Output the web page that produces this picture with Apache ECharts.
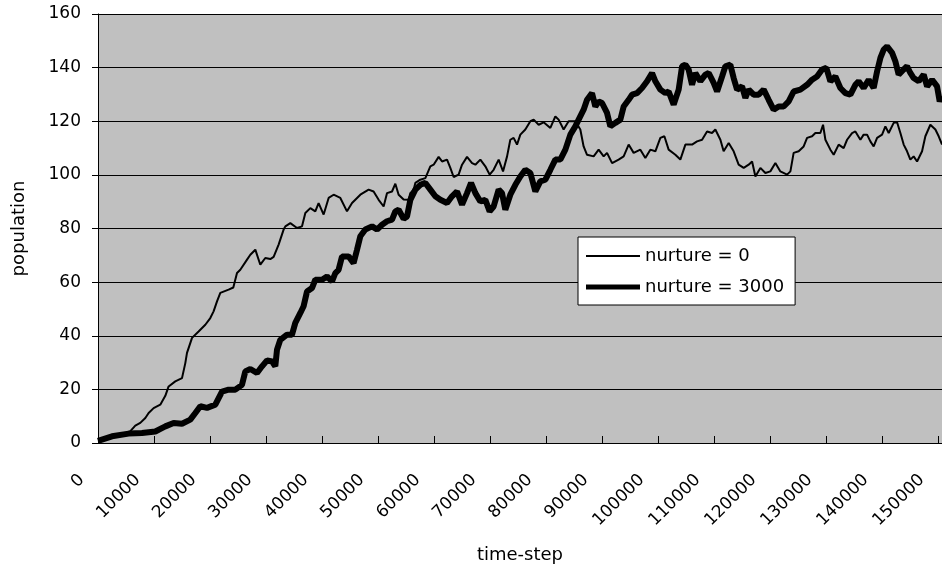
<!DOCTYPE html>
<html>
<head>
<meta charset="utf-8">
<script src="https://cdn.jsdelivr.net/npm/echarts@6/dist/echarts.min.js"></script>
<style>html,body{margin:0;padding:0;background:#fff;}#c{width:942px;height:565px;}</style>
</head>
<body>
<div id="c"></div>
<script>
// ---- data ----
const seriesNames = ['nurture = 0', 'nurture = 3000'];
const yTicks = [0, 20, 40, 60, 80, 100, 120, 140, 160];
const xTicks = [0, 10000, 20000, 30000, 40000, 50000, 60000, 70000, 80000, 90000, 100000, 110000, 120000, 130000, 140000, 150000];

const thinT = [0, 3090, 5460, 6660, 7550, 8450, 9040, 9930, 11120, 12020, 12610, 13800, 15000, 15590, 15890, 16790, 17960, 19160, 20050, 20640, 21250, 21840, 23320, 24160, 24820, 25410, 26610, 27200, 28090, 28980, 29870, 30770, 31360, 32250, 33140, 33450, 34340, 35540, 36430, 37020, 37910, 38800, 39390, 40290, 41180, 42070, 43270, 44460, 45360, 46840, 48320, 49210, 50110, 51000, 51610, 52500, 53090, 53680, 54570, 55460, 55770, 56360, 56660, 57550, 58450, 59340, 59930, 60820, 61430, 62320, 62910, 63500, 64390, 65000, 65890, 66790, 67380, 68270, 69160, 69930, 70640, 71540, 72320, 73040, 73620, 74210, 74820, 75410, 76300, 77200, 77790, 78680, 79570, 80770, 81660, 82250, 83140, 84030, 85230, 86120, 86710, 87320, 88500, 89390, 90290, 90890, 91790, 92960, 93860, 94750, 95640, 96840, 97730, 98620, 99520, 100410, 101130, 101890, 103090, 103980, 104880, 106070, 106960, 107860, 108750, 109640, 110230, 111130, 111710, 112610, 113500, 114390, 115290, 116180, 116790, 117380, 118270, 119160, 120050, 120950, 121840, 123040, 123630, 124210, 125110, 126000, 126610, 127500, 128090, 128980, 129460, 129880, 130770, 131360, 132250, 133140, 133750, 134640, 135230, 136130, 136710, 137320, 137910, 138500, 139110, 140000, 140590, 141180, 142070, 142680, 143270, 143860, 144460, 145050, 145640, 146250, 147140, 147730, 148620, 149520, 150110, 150710];
const thinV = [0.5, 2.5, 3.7, 6.5, 7.5, 9.3, 11.2, 13, 14.3, 17.6, 21.1, 23, 24.2, 29.8, 33.6, 39.2, 41.6, 44.1, 46.6, 49.1, 52.8, 56, 57.2, 58, 63.4, 64.6, 68.4, 70.2, 72.1, 66.5, 69, 68.6, 69.4, 74, 79.6, 80.8, 82, 80.2, 80.8, 85.8, 87.6, 86.4, 89.5, 85.2, 91.4, 92.6, 91.4, 86.4, 89.5, 92.6, 94.5, 93.8, 90.7, 88.2, 93.2, 93.8, 96.7, 92.6, 90.8, 90.7, 93.2, 94.5, 97, 98.2, 98.8, 103.2, 103.8, 106.7, 105, 105.7, 102.6, 99.2, 100.1, 103.8, 106.7, 104.4, 103.8, 105.7, 103.2, 100.1, 101.9, 105.7, 101.3, 106.9, 113.1, 113.8, 111.3, 115, 116.9, 120, 120.6, 118.7, 119.6, 117.5, 121.8, 120.6, 116.9, 120, 120, 116.9, 110.6, 107.5, 106.9, 109.4, 106.9, 108.2, 104.4, 105.7, 106.9, 111.3, 108.2, 109.4, 106.3, 109.4, 108.8, 113.8, 114.4, 109.4, 107.5, 105.7, 111.3, 111.3, 112.5, 113.1, 116.2, 115.6, 116.9, 113.1, 108.8, 111.9, 108.8, 103.8, 102.6, 103.8, 105, 99.4, 102.6, 100.7, 101.3, 104.4, 101.3, 100.1, 101.3, 108.2, 108.8, 110.6, 113.8, 114.4, 115.6, 115.6, 118.7, 113.1, 109.4, 107.5, 111.3, 110, 113.1, 115.6, 116.2, 113.1, 115, 115, 112.5, 110.6, 113.8, 115, 118.1, 115.6, 119.4, 119.6, 115.6, 111.3, 108.8, 105.7, 106.9, 105, 108.8, 114.4, 118.7, 116.9, 114.4, 111.3];

const thickT = [0, 2500, 5460, 7860, 10230, 12020, 13500, 15000, 16480, 17380, 18270, 19460, 20950, 22140, 23320, 24520, 25710, 26300, 27200, 28390, 29290, 30180, 31070, 31660, 31960, 32550, 33750, 34640, 35230, 36130, 36710, 37320, 38210, 38800, 40000, 40890, 41790, 42380, 42960, 43570, 44750, 45640, 46250, 46840, 47730, 48930, 49820, 50710, 51610, 52500, 53090, 53680, 54570, 55180, 55770, 56660, 57550, 58450, 59340, 60230, 61130, 62320, 63210, 64110, 65000, 65890, 66610, 67380, 68270, 69160, 69930, 70640, 71540, 72140, 72730, 73620, 74520, 75410, 76300, 77200, 78090, 78980, 79880, 80770, 81660, 82550, 83450, 84340, 85230, 85820, 86710, 87320, 88210, 88800, 89390, 90000, 90890, 91480, 92380, 93270, 93860, 94750, 95360, 96250, 97140, 98040, 98930, 99520, 100410, 101300, 101890, 102790, 103680, 104290, 104880, 105460, 106070, 106660, 107550, 108450, 109040, 109930, 110540, 111430, 112020, 112910, 113500, 114110, 115000, 115590, 116180, 117070, 117960, 118860, 119750, 120640, 121540, 122430, 123320, 124210, 125410, 126610, 127500, 128390, 129290, 130050, 130770, 131660, 132550, 133450, 134340, 135230, 135820, 136710, 137610, 138500, 139110, 139700, 140290, 140890, 141790, 142380, 142960, 143860, 144460, 145050, 145640, 146540, 147430, 148040, 148930, 149820, 150290, 150710];
const thickV = [0.8, 2.5, 3.5, 3.7, 4.3, 6.2, 7.5, 7.2, 8.7, 11.2, 13.7, 13.1, 14.3, 19.2, 19.9, 19.9, 21.7, 26.7, 27.6, 26.1, 28.6, 30.8, 30.4, 28.6, 34.8, 38.5, 40.4, 40.4, 44.8, 48.5, 51, 56.5, 57.8, 60.9, 60.9, 62.1, 60.3, 63.4, 64.6, 69.6, 69.6, 67.1, 72.1, 77.1, 79.6, 80.8, 79.6, 81.4, 82.7, 83.3, 86.4, 87, 83.6, 84.5, 90.7, 94.5, 96.3, 97, 94.5, 92, 90.7, 89.5, 92, 93.8, 88.9, 93.2, 97, 93.2, 90.1, 90.7, 86.4, 88.2, 94.5, 93.2, 87, 92.6, 96.3, 99.4, 101.9, 100.7, 93.8, 97.6, 98.2, 101.9, 105.7, 105.7, 109.4, 115, 118.1, 120.6, 124.3, 128, 130.5, 125.5, 127.4, 126.8, 123.1, 118.1, 119.4, 120.6, 125.5, 128, 129.9, 130.5, 132.4, 134.9, 138, 134.9, 131.8, 130.5, 131.1, 126.2, 131.8, 140.5, 141.1, 139.3, 133.6, 138, 134.9, 137.4, 138, 134.3, 131.1, 136.7, 140.5, 141.1, 136.1, 131.8, 133, 128.7, 131.8, 129.9, 129.9, 131.8, 128, 124.3, 125.5, 125.5, 127.4, 131.1, 131.8, 133.6, 135.5, 136.7, 139.3, 139.9, 134.9, 136.7, 132.4, 130.5, 129.9, 133.6, 134.9, 132.4, 135.5, 132.4, 138.6, 143.6, 146.7, 147.9, 145.5, 142.3, 137.4, 139.3, 140.5, 138, 136.1, 134.9, 137.4, 133, 135.5, 133, 127.4, 129.3];

const xMax = 150700;

function zip(t, v) { return t.map((x, i) => [x, v[i]]); }

const FONT = 'DejaVu Sans';
const chart = echarts.init(document.getElementById('c'), null, { renderer: 'canvas' });
chart.setOption({
  animation: false,
  backgroundColor: '#ffffff',
  textStyle: { fontFamily: FONT, color: '#000' },
  grid: {
    left: 98, right: 0, top: 14, bottom: 122,
    containLabel: false,
    outerBoundsMode: 'none',
    show: true, backgroundColor: '#c0c0c0', borderWidth: 0
  },
  legend: {
    orient: 'vertical',
    left: 578, top: 237,
    backgroundColor: '#ffffff',
    borderColor: '#000', borderWidth: 1,
    padding: [10, 11, 9, 8],
    itemWidth: 54, itemHeight: 18, itemGap: 13,
    symbolKeepAspect: true,
    textStyle: { fontFamily: FONT, fontSize: 18, color: '#000' },
    data: [
      { name: seriesNames[0], icon: 'path://M0,0H54V2H0Z' },
      { name: seriesNames[1], icon: 'path://M0,0H54V5H0Z' }
    ]
  },
  xAxis: {
    type: 'value',
    min: 0, max: xMax, interval: 10000,
    name: 'time-step', nameLocation: 'middle', nameGap: 103,
    nameTextStyle: { fontFamily: FONT, fontSize: 18, color: '#000' },
    axisLine: { show: true, lineStyle: { color: '#000', width: 1 } },
    axisTick: { show: true, inside: true, length: 7, lineStyle: { color: '#000' } },
    splitLine: { show: false },
    axisLabel: {
      rotate: 45, margin: 18, fontFamily: FONT, fontSize: 17, color: '#000',
      padding: [0, 23, 0, 0],
      showMaxLabel: false,
      formatter: v => (xTicks.indexOf(v) >= 0 ? String(v) : '')
    }
  },
  yAxis: {
    type: 'value',
    min: 0, max: 160, interval: 20,
    name: 'population', nameLocation: 'middle', nameGap: 70,
    nameTextStyle: { fontFamily: FONT, fontSize: 18, color: '#000' },
    axisLine: { show: true, lineStyle: { color: '#000', width: 1 } },
    axisTick: { show: true, inside: false, length: 6, lineStyle: { color: '#000' } },
    splitLine: { show: true, lineStyle: { color: '#000', width: 1 } },
    axisLabel: {
      margin: 17, fontFamily: FONT, fontSize: 17, color: '#000',
      formatter: v => (yTicks.indexOf(v) >= 0 ? String(v) : '')
    }
  },
  series: [
    {
      name: seriesNames[0], type: 'line', data: zip(thinT, thinV),
      showSymbol: false, symbol: 'none',
      lineStyle: { color: '#000', width: 2 }, itemStyle: { color: '#000' }
    },
    {
      name: seriesNames[1], type: 'line', data: zip(thickT, thickV),
      showSymbol: false, symbol: 'none',
      lineStyle: { color: '#000', width: 6 }, itemStyle: { color: '#000' }
    }
  ]
});
</script>
</body>
</html>
